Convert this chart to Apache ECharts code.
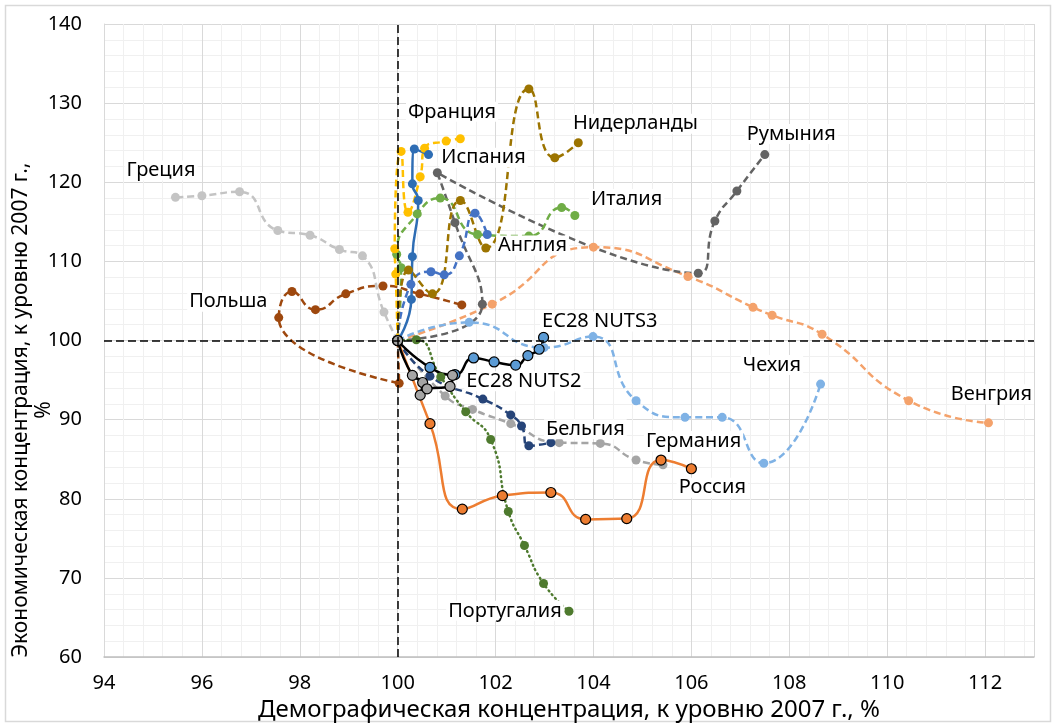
<!DOCTYPE html>
<html>
<head>
<meta charset="utf-8">
<title>Демографическая и экономическая концентрация</title>
<script src="https://cdn.jsdelivr.net/npm/echarts@6/dist/echarts.min.js"></script>
<style>
  html, body { margin: 0; padding: 0; background: #fff; }
  #chart { width: 1052px; height: 727px; }
</style>
</head>
<body>
<div id="chart"></div>
<script>
// траектории: [демографическая, экономическая], 2007 = 100
const greece = [[100, 100], [99.72, 103.6], [99.28, 110.7], [98.81, 111.5], [98.21, 113.3], [97.55, 113.9], [96.77, 118.8], [96.0, 118.3], [95.46, 118.1]]
const poland = [[100, 100], [100.03, 94.6], [97.57, 102.9], [97.84, 106.2], [98.32, 103.9], [98.94, 105.9], [99.7, 106.9], [100.45, 105.9], [101.31, 104.5]]
const hungary = [[100, 100], [101.93, 104.6], [104.0, 111.8], [105.93, 108.1], [107.26, 104.2], [107.65, 103.2], [108.67, 100.8], [110.44, 92.4], [112.07, 89.6]]
const romania = [[100, 100], [101.73, 104.6], [101.17, 114.9], [100.81, 121.2], [106.14, 108.5], [106.48, 115.1], [106.93, 118.9], [107.5, 123.5]]
const czechia = [[100, 100], [101.46, 102.3], [102.99, 99.1], [103.99, 100.5], [104.87, 92.4], [105.87, 90.3], [106.63, 90.3], [107.48, 84.5], [108.64, 94.5]]
const germany = [[100, 100], [100.97, 93.0], [101.53, 91.3], [102.31, 89.5], [103.3, 87.1], [104.14, 87.0], [104.87, 84.9], [105.42, 84.3]]
const belgium = [[100, 100], [100.66, 95.5], [101.74, 92.6], [102.31, 90.6], [102.53, 89.2], [102.68, 86.7], [103.13, 87.1]]
const portugal = [[100, 100], [100.38, 100.1], [100.88, 95.4], [101.39, 91.0], [101.9, 87.5], [102.26, 78.4], [102.59, 74.1], [102.98, 69.3], [103.5, 65.8]]
const russia = [[100, 100], [100.66, 89.5], [101.32, 78.7], [102.14, 80.4], [103.13, 80.8], [103.84, 77.4], [104.68, 77.5], [105.38, 84.9], [106.0, 83.8]]
const italy = [[100, 100], [100.07, 109.2], [99.98, 110.9], [100.4, 116.0], [100.87, 118.0], [101.63, 113.4], [102.68, 113.2], [103.35, 116.8], [103.62, 115.8]]
const england = [[100, 100], [100.27, 107.1], [100.68, 108.7], [100.95, 108.3], [101.26, 110.7], [101.58, 116.1], [101.83, 113.4]]
const netherlands = [[100, 100], [100.22, 108.9], [100.71, 105.9], [101.28, 117.7], [101.8, 111.7], [102.68, 131.8], [103.21, 123.1], [103.69, 125.0]]
const france = [[100, 100], [99.96, 108.4], [99.94, 111.6], [100.07, 123.9], [100.21, 116.2], [100.46, 120.7], [100.55, 124.3], [100.99, 125.2], [101.28, 125.5]]
const spain = [[100, 100], [100.28, 105.2], [100.3, 110.6], [100.42, 117.7], [100.3, 119.8], [100.34, 124.2], [100.63, 123.5]]
const nuts3 = [[100, 100], [100.66, 96.6], [101.17, 95.7], [101.55, 97.8], [101.97, 97.3], [102.41, 96.9], [102.66, 98.1], [102.89, 98.9], [102.98, 100.4]]
const nuts2 = [[100, 100], [100.3, 95.6], [100.51, 94.7], [100.46, 93.1], [100.6, 93.9], [101.07, 94.2], [101.12, 95.6]]

// подписи стран (левый край текста, середина по высоте)
const labelNames = ['Франция', 'Нидерланды', 'Румыния', 'Испания', 'Греция', 'Италия', 'Англия', 'Польша',
  'EC28 NUTS3', 'Чехия', 'EC28 NUTS2', 'Венгрия', 'Бельгия', 'Германия', 'Россия', 'Португалия']
const labelX = [100.17, 103.54, 107.09, 100.85, 94.42, 103.91, 102.01, 95.7, 102.91, 107.01, 101.36, 111.26, 102.99, 105.03, 105.7, 100.99]
const labelY = [128.9, 127.4, 126.1, 123.1, 121.5, 117.9, 112.0, 104.9, 102.4, 96.9, 94.85, 93.2, 88.8, 87.3, 81.4, 65.85]

// оси
const xMin = 94, xMax = 113, xStep = 2
const yMin = 60, yMax = 140, yStep = 10

const dash = [7, 4]
const dot = [1, 4]

const lineDefs = [
  { name: 'Венгрия', data: hungary, color: '#F4A26B', dash: dash },
  { name: 'Румыния', data: romania, color: '#636363', dash: dash },
  { name: 'Греция', data: greece, color: '#C4C4C4', dash: dash },
  { name: 'Польша', data: poland, color: '#9E480E', dash: dash },
  { name: 'Чехия', data: czechia, color: '#7FB2E5', dash: dash },
  { name: 'Германия', data: germany, color: '#A5A5A5', dash: dash },
  { name: 'Бельгия', data: belgium, color: '#264478', dash: dash },
  { name: 'Португалия', data: portugal, color: '#4E7A2E', dash: dot },
  { name: 'Россия', data: russia, color: '#ED7D31', dash: 'solid', marker: '#ED7D31', border: '#000' },
  { name: 'Италия', data: italy, color: '#70AD47', dash: dash },
  { name: 'Англия', data: england, color: '#4472C4', dash: dash },
  { name: 'Нидерланды', data: netherlands, color: '#9C7400', dash: dash },
  { name: 'Франция', data: france, color: '#FFC000', dash: dash },
  { name: 'Испания', data: spain, color: '#2E6DB4', dash: 'solid' },
  { name: 'EC28 NUTS3', data: nuts3, color: '#000', dash: 'solid', marker: '#5B9BD5', border: '#000' },
  { name: 'EC28 NUTS2', data: nuts2, color: '#000', dash: 'solid', marker: '#A5A5A5', border: '#000' }
]

const font = "'Noto Sans', 'Open Sans', sans-serif"

const series = lineDefs.map(d => ({
  name: d.name,
  type: 'line',
  data: d.data,
  smooth: 0.55,
  symbol: 'circle',
  symbolSize: d.border ? 10 : 9,
  z: 3,
  lineStyle: { color: d.color, width: 2.5, type: d.dash, cap: d.dash === dot ? 'round' : 'butt' },
  itemStyle: {
    color: d.marker || d.color,
    borderColor: d.border || d.marker || d.color,
    borderWidth: d.border ? 1.2 : 0
  },
  emphasis: { disabled: true }
}))

// пунктир на уровне 100 по обеим осям
series.unshift({
  type: 'line',
  data: [],
  z: 2,
  markLine: {
    silent: true,
    symbol: 'none',
    label: { show: false },
    lineStyle: { color: '#000', width: 1.5, type: [8, 4] },
    data: [{ xAxis: 100 }, { yAxis: 100 }]
  }
})

series.push({
  type: 'scatter',
  data: labelNames.map((n, i) => ({ name: n, value: [labelX[i], labelY[i]] })),
  symbolSize: 0,
  z: 10,
  itemStyle: { color: 'rgba(0,0,0,0)', opacity: 1 },
  label: {
    show: true,
    position: 'right',
    distance: 0,
    formatter: '{b}',
    fontFamily: font,
    fontSize: 20,
    color: '#000',
    opacity: 1,
    backgroundColor: '#fff',
    padding: [0, 2]
  },
  emphasis: { disabled: true }
})

const chart = echarts.init(document.getElementById('chart'))

chart.setOption({
  animation: false,
  grid: { left: 104, top: 24, width: 930, height: 635 },
  xAxis: {
    type: 'value',
    min: xMin,
    max: xMax,
    interval: xStep,
    name: 'Демографическая концентрация, к уровню 2007 г., %',
    nameLocation: 'middle',
    nameGap: 40,
    nameTextStyle: { fontFamily: font, fontSize: 24, color: '#000' },
    axisLine: { show: true, lineStyle: { color: '#BFBFBF', width: 1.5 } },
    axisTick: { show: false },
    axisLabel: { fontFamily: font, fontSize: 20, color: '#000', margin: 16, showMaxLabel: false },
    splitLine: { show: true, lineStyle: { color: '#D9D9D9', width: 1 } },
    minorTick: { show: false, splitNumber: 5 },
    minorSplitLine: { show: true, lineStyle: { color: '#F0F0F0', width: 1 } }
  },
  yAxis: {
    type: 'value',
    min: yMin,
    max: yMax,
    interval: yStep,
    axisLine: { show: true, lineStyle: { color: '#D9D9D9', width: 1 } },
    axisTick: { show: false },
    axisLabel: { fontFamily: font, fontSize: 20, color: '#000', margin: 22 },
    splitLine: { show: true, lineStyle: { color: '#D9D9D9', width: 1 } },
    minorTick: { show: false, splitNumber: 5 },
    minorSplitLine: { show: true, lineStyle: { color: '#F0F0F0', width: 1 } }
  },
  graphic: [
    {
      type: 'rect',
      silent: true,
      shape: { x: 5.5, y: 5.5, width: 1045, height: 716 },
      style: { fill: 'none', stroke: '#D9D9D9', lineWidth: 1.5 }
    },
    {
      type: 'text',
      x: 33,
      y: 410,
      rotation: Math.PI / 2,
      style: {
        text: 'Экономическая концентрация, к уровню 2007 г.,\n%',
        font: "21px 'Noto Sans', 'Open Sans', sans-serif",
        fill: '#000',
        align: 'center',
        verticalAlign: 'middle',
        lineHeight: 23
      }
    }
  ],
  series: series
})
</script>
</body>
</html>
